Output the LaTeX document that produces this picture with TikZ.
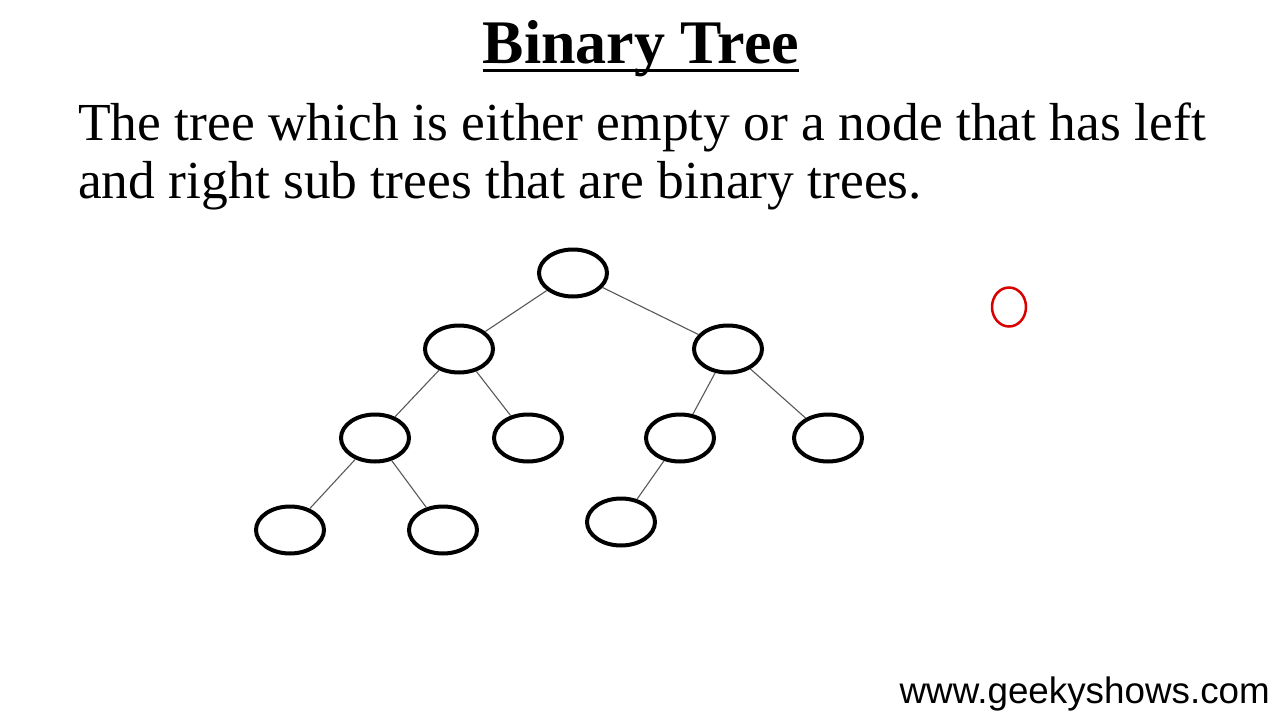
\documentclass[tikz,border=0pt]{standalone}
\usepackage{fontspec}
\setmainfont{Liberation Serif}
\newfontfamily\webfont{Liberation Sans}
\usetikzlibrary{shapes.geometric}
\begin{document}
\begin{tikzpicture}[x=1pt,y=-1pt,
		treenode/.style={draw,ellipse,line width=4pt,minimum width=68pt,minimum height=47pt,inner sep=0pt},
		branch/.style={draw=black!65,line width=1.1pt}]
			\useasboundingbox[fill=white] (0,0) rectangle (1280,720);
			
			\node[anchor=base,inner sep=0pt,font=\fontsize{62}{70}\selectfont\bfseries] (title) at (641,63) {Binary Tree};
			\draw[line width=3pt] (title.south west |- 0,70) -- (title.south east |- 0,70);
			\node[anchor=base west,inner sep=0pt,font=\fontsize{53.5}{60}\selectfont] (line1) at (78,140) {The tree which is either empty or a node that has left};
			\node[anchor=base west,inner sep=0pt,font=\fontsize{53.5}{60}\selectfont] (line2) at (78,198) {and right sub trees that are binary trees.};
			
			\node[treenode] (root) at (573,273) {};
			\node[treenode] (left) at (459,349) {};
			\node[treenode] (right) at (728,349) {};
			\node[treenode] (leftleft) at (375,438) {};
			\node[treenode] (leftright) at (528,438) {};
			\node[treenode] (rightleft) at (680,438) {};
			\node[treenode] (rightright) at (828,438) {};
			\node[treenode] (lll) at (290,530) {};
			\node[treenode] (llr) at (443,530) {};
			\node[treenode] (rll) at (621,522) {};
			
			\path[branch] (root) edge (left)
			(root) edge (right)
			(left) edge (leftleft)
			(left) edge (leftright)
			(right) edge (rightleft)
			(right) edge (rightright)
			(leftleft) edge (lll)
			(leftleft) edge (llr)
			(rightleft) edge (rll);
			
			\node[draw=red!85!black,ellipse,line width=2.5pt,minimum width=34pt,minimum height=39pt,inner sep=0pt] (mark) at (1009,307) {};
			
			\node[anchor=base east,inner sep=0pt,font=\fontsize{36.8}{40}\selectfont\webfont] (site) at (1270,703) {www.geekyshows.com};
		\end{tikzpicture}
\end{document}
